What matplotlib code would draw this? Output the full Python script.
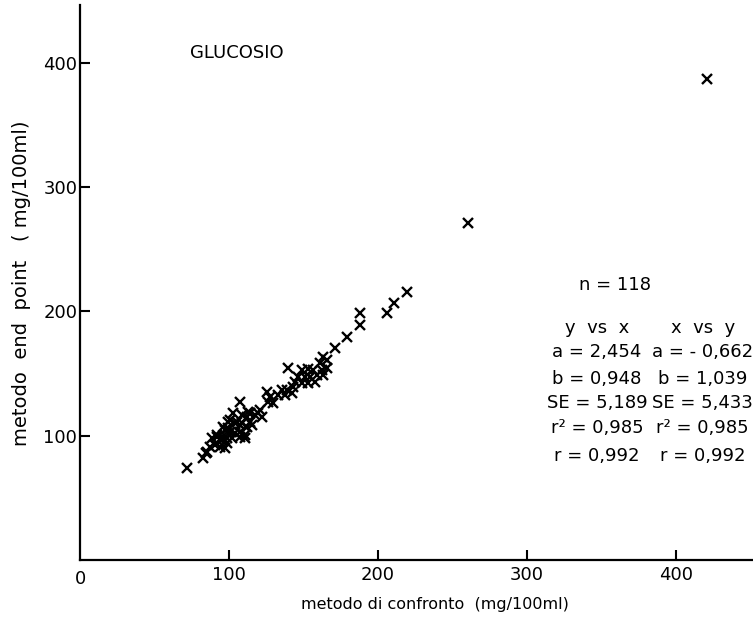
import matplotlib
matplotlib.use("Agg")
import matplotlib.pyplot as plt

# readings from the scanned chart (mg/100ml)
x_vals = [72.0, 82.8, 84.6, 85.0, 87.2, 88.4, 90.6, 91.7, 91.7, 94.0,
          95.1, 95.1, 96.2, 97.3, 97.3, 98.4, 98.4, 99.5, 99.5, 100.7,
          100.7, 101.8, 102.9, 104.0, 104.0, 105.1, 107.4, 107.4, 107.4, 107.4,
          108.5, 108.5, 110.7, 110.7, 111.9, 111.9, 113.0, 114.1, 114.1, 115.2,
          117.4, 119.7, 120.8, 121.9,
          125.3, 126.4, 127.5, 129.8, 133.1, 135.3, 137.6, 138.7, 139.8, 142.1,
          143.2, 144.3, 146.5, 148.8, 148.8, 151.0, 153.2, 153.2, 154.4, 156.6,
          157.7, 158.8, 161.1, 162.2, 163.3, 163.3, 165.5, 165.5,
          171.1, 179.4, 187.9, 187.9, 205.8, 211.0, 219.2, 260.4, 421.0]
y_vals = [73.7, 81.8, 85.8, 87.1, 91.2, 97.9, 92.5, 99.2, 100.6, 91.2,
          96.5, 99.2, 107.3, 89.8, 104.6, 93.9, 97.9, 105.9, 111.3, 103.3,
          112.6, 97.9, 118.0, 101.9, 110.0, 111.3, 99.2, 103.3, 108.6, 127.4,
          109.9, 116.6, 97.9, 100.6, 107.3, 115.3, 119.3, 111.3, 118.0, 108.6,
          116.7, 118.0, 120.7, 115.3,
          135.4, 127.4, 131.4, 126.0, 132.8, 136.8, 132.8, 136.8, 154.2, 134.1,
          139.5, 143.5, 147.5, 142.2, 152.9, 147.5, 142.2, 153.4, 147.5, 152.9,
          143.5, 148.9, 158.3, 152.9, 148.9, 163.6, 154.2, 161.0,
          170.9, 179.7, 189.1, 198.5, 198.5, 207.1, 215.9, 271.0, 387.0]

x_ticks = [100, 200, 300, 400]
y_ticks = [100, 200, 300, 400]

n_obs = "n = 118"
stat_names = ["a", "b", "SE", "r²", "r"]
yx_stats = ["2,454", "0,948", "5,189", "0,985", "0,992"]
xy_stats = ["- 0,662", "1,039", "5,433", "0,985", "0,992"]

fig = plt.figure(figsize=(7.53, 6.18), dpi=100)
ax = fig.add_axes([80 / 753, 58 / 618, 673 / 753, 555 / 618])

ax.plot(x_vals, y_vals, linestyle="none", marker="x", color="black",
        markersize=7, markeredgewidth=1.7)

ax.set_xlim(0, 451.7)
ax.set_ylim(0, 446.5)
for s in ["top", "right"]:
    ax.spines[s].set_visible(False)
for s in ["left", "bottom"]:
    ax.spines[s].set_linewidth(1.6)

ax.set_xticks(x_ticks)
ax.set_yticks(y_ticks)
ax.tick_params(direction="in", length=7, width=1.5, labelsize=13, pad=4)
ax.tick_params(axis="y", pad=2)
# origin label on x only
ax.text(0, -8, "0", ha="center", va="top", fontsize=13)

ax.text(74, 408, "GLUCOSIO", ha="left", va="center", fontsize=13)

fig.text(435 / 753, 1 - 605 / 618, "metodo di confronto  (mg/100ml)",
         ha="center", va="center", fontsize=11.5)
fig.text(22 / 753, 1 - 283 / 618, "metodo  end  point   ( mg/100ml)",
         ha="center", va="center", rotation=90, fontsize=14)

# regression summary
ax.text(359, 221, n_obs, ha="center", va="center", fontsize=13)
ax.text(347, 187, "y  vs  x", ha="center", va="center", fontsize=13)
ax.text(418, 187, "x  vs  y", ha="center", va="center", fontsize=13)
row_y = [167, 146, 126, 106, 84]
for name, v1, v2, yy in zip(stat_names, yx_stats, xy_stats, row_y):
    ax.text(347, yy, name + " = " + v1, ha="center", va="center", fontsize=13)
    ax.text(418, yy, name + " = " + v2, ha="center", va="center", fontsize=13)

fig.savefig("out.png", dpi=100)
